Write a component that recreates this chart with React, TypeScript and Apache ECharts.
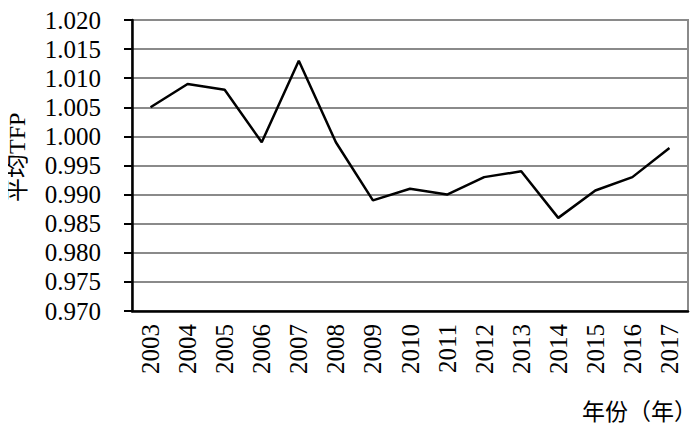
import React, { useEffect, useRef } from "react";
import * as echarts from "echarts";

const years = ["2003", "2004", "2005", "2006", "2007", "2008", "2009", "2010", "2011", "2012", "2013", "2014", "2015", "2016", "2017"];
const tfp = [1.005, 1.009, 1.008, 0.999, 1.013, 0.999, 0.989, 0.991, 0.990, 0.993, 0.994, 0.986, 0.9907, 0.993, 0.998];
const yMin = 0.97;
const yMax = 1.02;
const yStep = 0.005;
const xName = "年份（年）";
const yName = "平均TFP";

const FONT = "Liberation Serif, Noto Sans CJK SC, serif";

export default function App() {
  const ref = useRef<HTMLDivElement>(null);
  useEffect(() => {
    if (!ref.current) return;
    const chart = echarts.init(ref.current, null, { renderer: "svg" });
    chart.setOption({
      animation: false,
      backgroundColor: "#ffffff",
      textStyle: { fontFamily: FONT },
      grid: {
        left: 132,
        right: 12,
        top: 20,
        bottom: 123,
        show: true,
        borderColor: "#8a8a8a",
        borderWidth: 2,
      },
      xAxis: {
        type: "category",
        data: years,
        boundaryGap: true,
        axisLine: { show: true, lineStyle: { color: "#000", width: 2.5 } },
        axisTick: { show: false },
        axisLabel: { rotate: 90, margin: 13, fontSize: 25, color: "#000", fontFamily: FONT },
        splitLine: { show: false },
      },
      yAxis: {
        type: "value",
        min: yMin,
        max: yMax,
        interval: yStep,
        axisLine: { show: true, lineStyle: { color: "#000", width: 2.5 } },
        axisTick: { show: true, inside: false, length: 8, lineStyle: { color: "#000", width: 2 } },
        axisLabel: {
          margin: 31,
          fontSize: 25,
          color: "#000",
          fontFamily: FONT,
          formatter: (v: number) => v.toFixed(3),
        },
        splitLine: { show: true, lineStyle: { color: "#8a8a8a", width: 2 } },
      },
      graphic: [
        {
          type: "text",
          left: 582,
          top: 398,
          style: { text: xName, fontSize: 23, fill: "#000", fontFamily: "Noto Sans CJK SC, sans-serif" },
        },
        {
          type: "text",
          x: 5,
          y: 202,
          rotation: Math.PI / 2,
          style: { text: yName, fontSize: 24, fill: "#000", fontFamily: FONT },
        },
      ],
      series: [
        {
          type: "line",
          data: tfp,
          showSymbol: false,
          symbol: "none",
          lineStyle: { color: "#000", width: 2.5 },
        },
      ],
    });
    return () => chart.dispose();
  }, []);
  return <div ref={ref} style={{ width: 700, height: 434, margin: -8 }} />;
}
